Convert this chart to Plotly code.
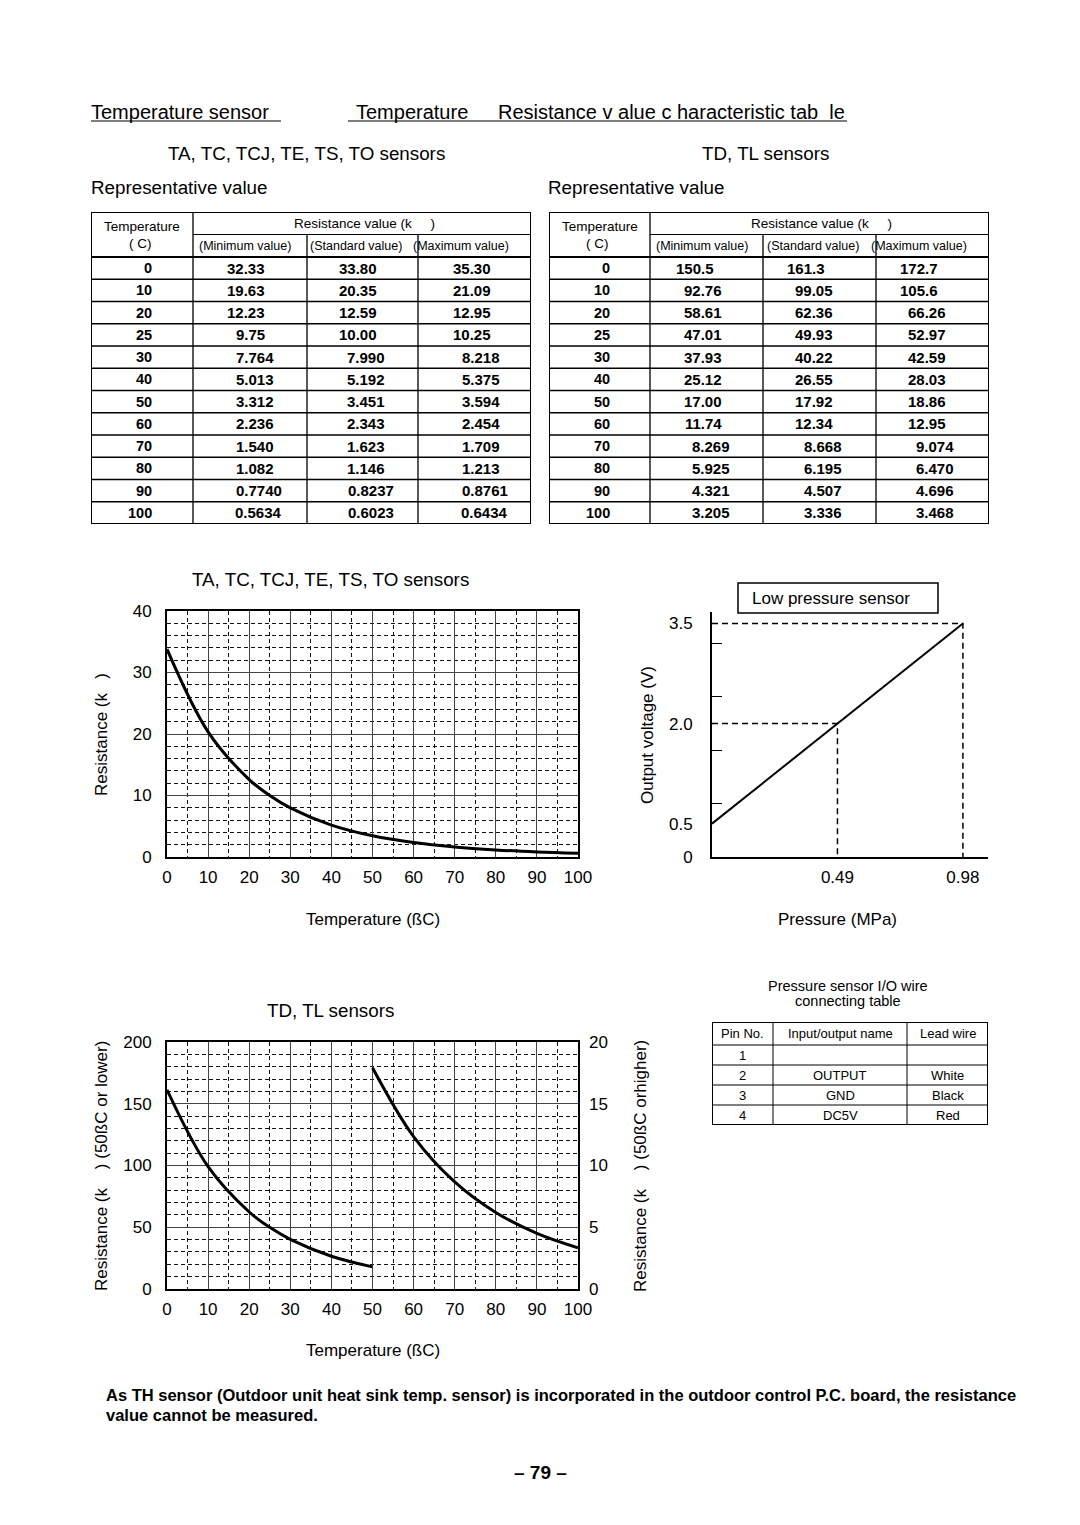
import plotly.graph_objects as go

W, H = 1080, 1525
FONT = "Liberation Sans, Arial, Helvetica, sans-serif"
NB = "\u00a0"

# ---------------- data ----------------
temps = [0, 10, 20, 25, 30, 40, 50, 60, 70, 80, 90, 100]
ta_min = ["32.33", "19.63", "12.23", "9.75", "7.764", "5.013", "3.312", "2.236", "1.540", "1.082", "0.7740", "0.5634"]
ta_std = ["33.80", "20.35", "12.59", "10.00", "7.990", "5.192", "3.451", "2.343", "1.623", "1.146", "0.8237", "0.6023"]
ta_max = ["35.30", "21.09", "12.95", "10.25", "8.218", "5.375", "3.594", "2.454", "1.709", "1.213", "0.8761", "0.6434"]
td_min = ["150.5", "92.76", "58.61", "47.01", "37.93", "25.12", "17.00", "11.74", "8.269", "5.925", "4.321", "3.205"]
td_std = ["161.3", "99.05", "62.36", "49.93", "40.22", "26.55", "17.92", "12.34", "8.668", "6.195", "4.507", "3.336"]
td_max = ["172.7", "105.6", "66.26", "52.97", "42.59", "28.03", "18.86", "12.95", "9.074", "6.470", "4.696", "3.468"]

temp_ticks = [0, 10, 20, 30, 40, 50, 60, 70, 80, 90, 100]
ta_res_ticks = [0, 10, 20, 30, 40]
td_low_ticks = [0, 50, 100, 150, 200]
td_high_ticks = [0, 5, 10, 15, 20]

pressure_mpa = [0.0, 0.49, 0.98]
voltage_v = [0.5, 2.0, 3.5]
voltage_ticks = [0, 0.5, 2.0, 3.5]
voltage_ticklabels = ["0", "0.5", "2.0", "3.5"]
voltage_minor_ticks = [0.8, 1.6, 2.4, 3.2]
pressure_ticks = [0.49, 0.98]
pressure_ticklabels = ["0.49", "0.98"]

pin_no = ["1", "2", "3", "4"]
io_name = ["", "OUTPUT", "GND", "DC5V"]
lead_wire = ["", "White", "Black", "Red"]


def px(x):
    return x / W


def py(y):
    return 1 - y / H


fig = go.Figure()
annotations = []
shapes = []


def ann(x, y, text, size=17, xanchor="center", bold=False, angle=0,
        xref="paper", yref="paper", yanchor="middle"):
    if xref == "paper":
        x = px(x)
    if yref == "paper":
        y = py(y)
    annotations.append(dict(
        x=x, y=y, xref=xref, yref=yref, text=text, showarrow=False,
        xanchor=xanchor, yanchor=yanchor, textangle=angle, borderpad=0, borderwidth=0,
        font=dict(size=size, color="black", family=FONT,
                  weight="bold" if bold else "normal")))


def line(x0, y0, x1, y1, width=1.0, xref="paper", yref="paper", dash="solid"):
    if xref == "paper":
        x0, x1 = px(x0), px(x1)
    if yref == "paper":
        y0, y1 = py(y0), py(y1)
    shapes.append(dict(type="line", x0=x0, y0=y0, x1=x1, y1=y1, xref=xref, yref=yref,
                       line=dict(color="black", width=width, dash=dash)))


# ---------------- page headings ----------------
ann(91, 112, "Temperature sensor", 20, "left")
ann(356, 112, "Temperature", 20, "left")
ann(498, 112, "Resistance v alue c haracteristic tab" + NB + NB + "le", 20, "left")
line(91, 121, 281, 121, 1.2)
line(348, 121, 847, 121, 1.2)

ann(306, 154, "TA, TC, TCJ, TE, TS, TO sensors", 18.8)
ann(765, 154, "TD, TL sensors", 18.8)
ann(91, 188, "Representative value", 18.8, "left")
ann(548, 188, "Representative value", 18.8, "left")

BODY_FS = 15
DIGIT_EM, DOT_EM = 0.556, 0.278


# ---------------- resistance tables ----------------
def res_table(tnum, col_edges, dec_pos, mins, stds, maxs):
    xr, yr = "x" + str(tnum), "y" + str(tnum)
    fig.add_trace(go.Scatter(x=[], y=[], xaxis=xr, yaxis=yr, showlegend=False))
    total_w = col_edges[-1]
    hdr1, hdr2 = 22.5, 45.0
    rh = 22.25
    n = len(temps)
    bottom = hdr2 + rh * n
    line(col_edges[1], 0, col_edges[1], bottom, 1.3, xr, yr)
    line(col_edges[2], hdr1, col_edges[2], bottom, 1.3, xr, yr)
    line(col_edges[3], hdr1, col_edges[3], bottom, 1.3, xr, yr)
    line(col_edges[1], hdr1, total_w, hdr1, 1.0, xr, yr)
    line(0, hdr2, total_w, hdr2, 2.0, xr, yr)
    for i in range(1, n):
        yy = hdr2 + rh * i
        line(0, yy, total_w, yy, 1.5, xr, yr)
    shapes.append(dict(type="rect", x0=0, x1=total_w, y0=0, y1=bottom, xref=xr, yref=yr,
                       line=dict(color="black", width=2)))
    ann(col_edges[1] / 2, 14, "Temperature", 13.5, xref=xr, yref=yr)
    ann(col_edges[1] / 2 - 2, 31, "(" + NB + "C)", 13.5, xref=xr, yref=yr)
    ann((col_edges[1] + total_w) / 2 + 2, 11,
        "Resistance value (k" + NB * 5 + ")", 13.5, xref=xr, yref=yr)
    subs = ["(Minimum value)", "(Standard value)", "(Maximum value)"]
    offs = [-5, -7, -14]
    for j, s in enumerate(subs):
        cx = (col_edges[j + 1] + col_edges[j + 2]) / 2 + offs[j]
        ann(cx, 33.5, s, 12.5, xref=xr, yref=yr)
    for i, t in enumerate(temps):
        cy = hdr2 + rh * (i + 0.5)
        ann(61, cy, str(t), 14.5, "right", True, xref=xr, yref=yr)
        for j, col in enumerate([mins, stds, maxs]):
            s = col[i]
            nfrac = len(s.split(".")[1])
            xright = dec_pos[j] + (DOT_EM + DIGIT_EM * nfrac) * BODY_FS
            ann(xright, cy, s, BODY_FS, "right", True, xref=xr, yref=yr)


res_table(5, [0, 102, 216, 327, 440], [153.5, 265, 379.5], ta_min, ta_std, ta_max)
res_table(6, [0, 101, 214, 327, 440], [152, 263.5, 376], td_min, td_std, td_max)

# ---------------- chart 1 ----------------
fig.add_trace(go.Scatter(x=temps, y=[float(v) for v in ta_std], mode="lines",
                         line=dict(color="black", width=3, shape="spline", smoothing=1.0),
                         xaxis="x", yaxis="y", showlegend=False, hoverinfo="skip"))


def grid_axis(domain, rng, tickvals, minor_dtick, anchor, standoff):
    return dict(domain=domain, range=rng, anchor=anchor, automargin=False,
                tickmode="array", tickvals=tickvals, ticktext=[str(v) for v in tickvals],
                showgrid=True, gridcolor="#444", gridwidth=1,
                minor=dict(tickmode="linear", tick0=0, dtick=minor_dtick, showgrid=True,
                           gridcolor="#111", gridwidth=1, griddash="4px,3px", ticks=""),
                showline=True, linecolor="black", linewidth=2, mirror=True, ticks="",
                zeroline=False, ticklabelstandoff=standoff,
                tickfont=dict(size=17, color="black", family=FONT), fixedrange=True)


x1dom = [px(167), px(578)]
layout_axes = {}
layout_axes["xaxis"] = grid_axis(x1dom, [0, 100], temp_ticks, 5, "y", 4)
layout_axes["yaxis"] = grid_axis([py(857), py(611)], [0, 40], ta_res_ticks, 2, "x", 10)

ann(330, 579, "TA, TC, TCJ, TE, TS, TO sensors", 18.8)
ann(101, 735, "Resistance (k" + NB * 3 + ")", 17, angle=-90)
ann(373, 919, "Temperature (ßC)", 17)

# ---------------- chart 2 ----------------
fig.add_trace(go.Scatter(x=pressure_mpa, y=voltage_v, mode="lines",
                         line=dict(color="black", width=2),
                         xaxis="x2", yaxis="y2", showlegend=False, hoverinfo="skip",
                         cliponaxis=False))
gx, gy = [], []
for p, v in zip(pressure_mpa[1:], voltage_v[1:]):
    gx += [0, p, p, None]
    gy += [v, v, 0, None]
fig.add_trace(go.Scatter(x=gx, y=gy, mode="lines",
                         line=dict(color="black", width=1.5, dash="6px,4px"),
                         xaxis="x2", yaxis="y2", showlegend=False, hoverinfo="skip",
                         cliponaxis=False))

layout_axes["xaxis2"] = dict(domain=[px(712), px(988)], range=[0, 1.078], anchor="y2", automargin=False,
                             showline=True, linecolor="black", linewidth=2, mirror=False,
                             tickmode="array", tickvals=pressure_ticks, ticktext=pressure_ticklabels,
                             ticks="", showgrid=False, zeroline=False, ticklabelstandoff=4,
                             tickfont=dict(size=17, color="black", family=FONT), fixedrange=True)
layout_axes["yaxis2"] = dict(domain=[py(857), py(612)], range=[0, 3.673], anchor="x2", automargin=False,
                             showline=True, linecolor="black", linewidth=2, mirror=False,
                             tickmode="array", tickvals=voltage_ticks, ticktext=voltage_ticklabels,
                             ticks="", showgrid=False, zeroline=False, ticklabelstandoff=14,
                             minor=dict(tickmode="array", tickvals=voltage_minor_ticks,
                                        ticks="inside", ticklen=10, tickwidth=1,
                                        tickcolor="black", showgrid=False),
                             tickfont=dict(size=17, color="black", family=FONT), fixedrange=True)

shapes.append(dict(type="rect", x0=px(738), x1=px(938), y0=py(583), y1=py(613),
                   xref="paper", yref="paper", line=dict(color="black", width=1.5)))
ann(831, 598, "Low pressure sensor", 17)
ann(647, 735, "Output voltage (V)", 17, angle=-90)
ann(837, 919, "Pressure (MPa)", 17)

# ---------------- pin table ----------------
fig.add_trace(go.Scatter(x=[], y=[], xaxis="x7", yaxis="y7", showlegend=False))
ann(848, 986, "Pressure sensor I/O wire", 14.5)
ann(848, 1001, "connecting table", 14.5)
pcols = [0, 61, 195, 276]
prows = [0, 23, 43, 63, 83, 103]
for xe in pcols[1:-1]:
    line(xe, 0, xe, prows[-1], 1.0, "x7", "y7")
for ye in prows[1:-1]:
    line(0, ye, pcols[-1], ye, 1.0, "x7", "y7")
shapes.append(dict(type="rect", x0=0, x1=pcols[-1], y0=0, y1=prows[-1], xref="x7", yref="y7",
                   line=dict(color="black", width=2)))
hdrs = ["Pin No.", "Input/output name", "Lead wire"]
for j, h in enumerate(hdrs):
    ann((pcols[j] + pcols[j + 1]) / 2, (prows[0] + prows[1]) / 2, h, 13, xref="x7", yref="y7")
for i in range(len(pin_no)):
    cy = (prows[i + 1] + prows[i + 2]) / 2
    for j, col in enumerate([pin_no, io_name, lead_wire]):
        if col[i]:
            ann((pcols[j] + pcols[j + 1]) / 2, cy, col[i], 13, xref="x7", yref="y7")

# ---------------- chart 3 ----------------
lo_x = [t for t in temps if t <= 50]
lo_y = [float(v) for t, v in zip(temps, td_std) if t <= 50]
hi_x = [t for t in temps if t >= 50]
hi_y = [float(v) for t, v in zip(temps, td_std) if t >= 50]
fig.add_trace(go.Scatter(x=lo_x, y=lo_y, mode="lines",
                         line=dict(color="black", width=3, shape="spline", smoothing=1.0),
                         xaxis="x3", yaxis="y3", showlegend=False, hoverinfo="skip"))
fig.add_trace(go.Scatter(x=hi_x, y=hi_y, mode="lines",
                         line=dict(color="black", width=3, shape="spline", smoothing=1.0),
                         xaxis="x3", yaxis="y4", showlegend=False, hoverinfo="skip"))

layout_axes["xaxis3"] = grid_axis(x1dom, [0, 100], temp_ticks, 5, "y3", 4)
layout_axes["yaxis3"] = grid_axis([py(1289), py(1042)], [0, 200], td_low_ticks, 10, "x3", 10)
layout_axes["yaxis4"] = dict(overlaying="y3", side="right", anchor="x3", range=[0, 20], automargin=False,
                             tickmode="array", tickvals=td_high_ticks,
                             ticktext=[str(v) for v in td_high_ticks],
                             showgrid=False, showline=False, ticks="", zeroline=False,
                             ticklabelstandoff=10,
                             tickfont=dict(size=17, color="black", family=FONT), fixedrange=True)

ann(330, 1010, "TD, TL sensors", 18.8)
ann(101, 1166, "Resistance (k" + NB * 4 + ") (50ßC or lower)", 17, angle=-90)
ann(640, 1166, "Resistance (k" + NB * 4 + ") (50ßC orhigher)", 17, angle=-90)
ann(373, 1350, "Temperature (ßC)", 17)

# ---------------- footer ----------------
ann(106, 1395, "As TH sensor (Outdoor unit heat sink temp. sensor) is incorporated in the "
               "outdoor control P.C. board, the resistance", 16.5, "left", True)
ann(106, 1415, "value cannot be measured.", 16.5, "left", True)
ann(540, 1472, "– 79 –", 19, bold=True)

# ---------------- table axes ----------------
for k, (l, r, t, b, xr, yr) in {
    5: (91, 531, 212, 524, [0, 440], [312, 0]),
    6: (549, 989, 212, 524, [0, 440], [312, 0]),
    7: (712, 988, 1022, 1125, [0, 276], [103, 0]),
}.items():
    layout_axes["xaxis%d" % k] = dict(domain=[px(l), px(r)], range=xr, anchor="y%d" % k,
                                      visible=False, fixedrange=True, automargin=False)
    layout_axes["yaxis%d" % k] = dict(domain=[py(b), py(t)], range=yr, anchor="x%d" % k,
                                      visible=False, fixedrange=True, automargin=False)

fig.update_layout(
    width=W, height=H, margin=dict(l=0, r=0, t=0, b=0, pad=0, autoexpand=False),
    paper_bgcolor="white", plot_bgcolor="white",
    font=dict(family=FONT, color="black"),
    showlegend=False, annotations=annotations, shapes=shapes,
    **layout_axes,
)

fig.write_html("out.html", config={"displayModeBar": False, "responsive": False},
               post_script="document.documentElement.style.margin='0';"
                           "document.body.style.margin='0';document.body.style.padding='0';"
                           "document.body.style.overflow='hidden';")
